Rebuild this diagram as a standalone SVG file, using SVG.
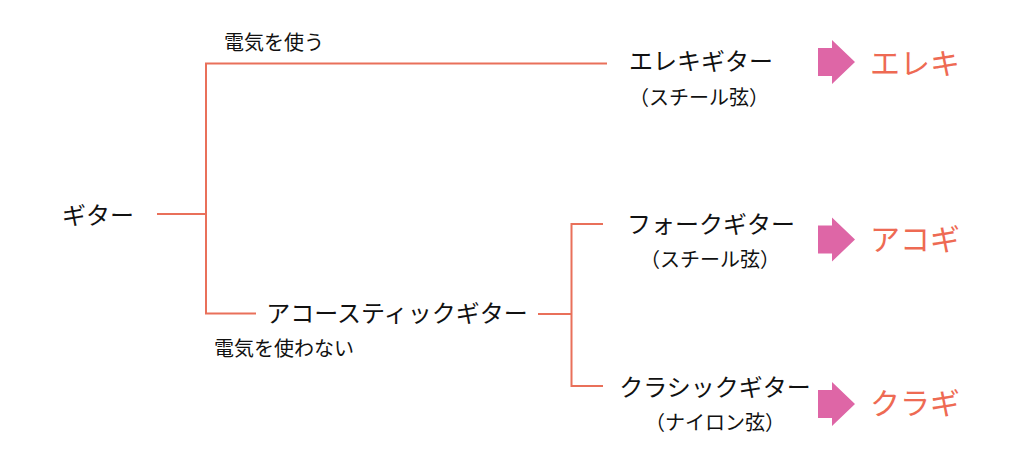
<svg xmlns="http://www.w3.org/2000/svg" xmlns:xlink="http://www.w3.org/1999/xlink" width="1019" height="458" viewBox="0 0 1019 458">
<style>
.t{font-family:"Noto Sans CJK JP","Noto Sans CJK SC",sans-serif;fill:#111;}
.n{font-size:24px;}
.s{font-size:20px;}
.l{font-size:20px;}
.r{font-family:"Noto Sans CJK JP","Noto Sans CJK SC",sans-serif;font-size:30px;fill:#EE6A53;}
.c{fill:none;stroke:#E9705A;stroke-width:2;}
.a{fill:#DE66A6;}
</style>
<defs>
<path id="arr" d="M818,-14 H832 V-22 L855,0 L832,22 V14 H818 Z"/>
</defs>
<rect width="1019" height="458" fill="#fff"/>
<g id="connectors">
<path class="c" d="M157,214 H206 M607,63.5 H206 V313.5 H256"/>
<path class="c" d="M538,314 H571.5 M603,224 H571.5 V386 H603"/>
</g>
<g id="guitar"><text class="t n" x="98" y="224" text-anchor="middle">ギター</text></g>
<g id="label-use"><text class="t l" x="274" y="50" text-anchor="middle">電気を使う</text></g>
<g id="label-nouse"><text class="t l" x="284" y="356" text-anchor="middle">電気を使わない</text></g>
<g id="acoustic"><text class="t n" x="397" y="322" text-anchor="middle">アコースティックギター</text></g>
<g id="electric">
<text class="t n" x="701" y="70" text-anchor="middle">エレキギター</text>
<text class="t s" x="699" y="105" text-anchor="middle">（スチール弦）</text>
</g>
<g id="folk">
<text class="t n" x="711" y="233" text-anchor="middle">フォークギター</text>
<text class="t s" x="710" y="267" text-anchor="middle">（スチール弦）</text>
</g>
<g id="classic">
<text class="t n" x="715" y="396" text-anchor="middle">クラシックギター</text>
<text class="t s" x="715" y="430" text-anchor="middle">（ナイロン弦）</text>
</g>
<g id="arrow-electric"><use xlink:href="#arr" class="a" transform="translate(0,62)"/><text class="r" x="915" y="74" text-anchor="middle">エレキ</text></g>
<g id="arrow-folk"><use xlink:href="#arr" class="a" transform="translate(0,239.5)"/><text class="r" x="915" y="250" text-anchor="middle">アコギ</text></g>
<g id="arrow-classic"><use xlink:href="#arr" class="a" transform="translate(0,404)"/><text class="r" x="915" y="414" text-anchor="middle">クラギ</text></g>
</svg>
